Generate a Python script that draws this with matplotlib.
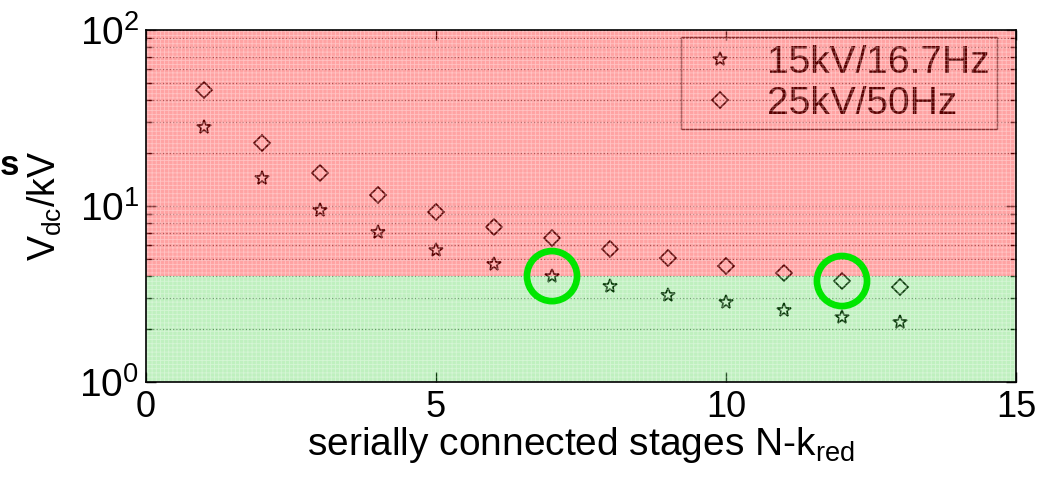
import matplotlib
matplotlib.use('Agg')
import matplotlib.pyplot as plt

plt.rcParams['font.family'] = ['Liberation Sans', 'DejaVu Sans']
plt.rcParams['mathtext.fontset'] = 'custom'
plt.rcParams['mathtext.rm'] = 'Liberation Sans'
plt.rcParams['mathtext.it'] = 'Liberation Sans'
plt.rcParams['hatch.linewidth'] = 0.6

# data
stages = [1, 2, 3, 4, 5, 6, 7, 8, 9, 10, 11, 12, 13]
v_15kv = [28.1, 14.4, 9.5, 7.1, 5.6, 4.7, 4.0, 3.5, 3.12, 2.85, 2.56, 2.34, 2.19]
v_25kv = [45.6, 22.8, 15.4, 11.5, 9.25, 7.6, 6.6, 5.7, 5.07, 4.56, 4.16, 3.75, 3.46]
v_limit = 4.0
highlight_x = [7, 12]
highlight_y = [4.0, 3.75]

fig = plt.figure(figsize=(10.55, 4.79), dpi=100)
ax = fig.add_axes([0.1384, 0.2025, 0.8246, 0.7345])

ax.plot(stages, v_15kv, linestyle='none', marker='*', markersize=10,
        markerfacecolor='none', markeredgecolor='black', markeredgewidth=1.2,
        label='15kV/16.7Hz')
ax.plot(stages, v_25kv, linestyle='none', marker='D', markersize=8,
        markerfacecolor='none', markeredgecolor='black', markeredgewidth=1.2,
        label='25kV/50Hz')

ax.set_yscale('log')
ax.set_xlim(0, 15)
ax.set_ylim(1, 100)
ax.set_xticks([0, 5, 10, 15])

leg = ax.legend(loc='upper right', fontsize=28, frameon=True, fancybox=False,
                borderpad=0.2, handletextpad=0.4, labelspacing=0.12,
                handlelength=1.6, borderaxespad=0, bbox_to_anchor=(0.978, 0.98))
leg.get_frame().set_edgecolor('#202020')
leg.get_frame().set_facecolor('none')
leg.get_frame().set_linewidth(1.0)

# shaded regions drawn over the marks, like in the original
ax.axhspan(v_limit, 100, facecolor=(1.0, 0.0, 0.0, 0.36), edgecolor=(1.0, 1.0, 1.0, 0.35),
           hatch='++++', linewidth=0, zorder=6)
ax.axhspan(1, v_limit, facecolor=(0.1, 0.8, 0.1, 0.28), edgecolor=(1.0, 1.0, 1.0, 0.35),
           hatch='++++', linewidth=0, zorder=6)

ax.scatter(highlight_x, highlight_y, s=1300, facecolors='none', edgecolors='#00e600',
           linewidths=4.8, zorder=8)

ax.grid(True, which='both', axis='y', linestyle=':', color='#808080', linewidth=0.9)
ax.tick_params(which='both', direction='in', top=True, right=True)
ax.tick_params(axis='y', labelsize=28, pad=5)
ax.tick_params(axis='x', labelsize=26, pad=6)
ax.tick_params(which='major', length=7, width=1)
ax.tick_params(which='minor', length=4, width=1)
for s in ax.spines.values():
    s.set_linewidth(1.2)
    s.set_zorder(9)

ax.set_xlabel(r'serially connected stages N-k$_{\rm red}$', fontsize=28, labelpad=0)
ax.set_ylabel(r'V$_{\rm dc}$/kV', fontsize=27, labelpad=11)

fig.text(0.0, 0.655, 's', fontsize=25, fontweight='bold', ha='left', va='center')

fig.savefig('out.png', dpi=100)
